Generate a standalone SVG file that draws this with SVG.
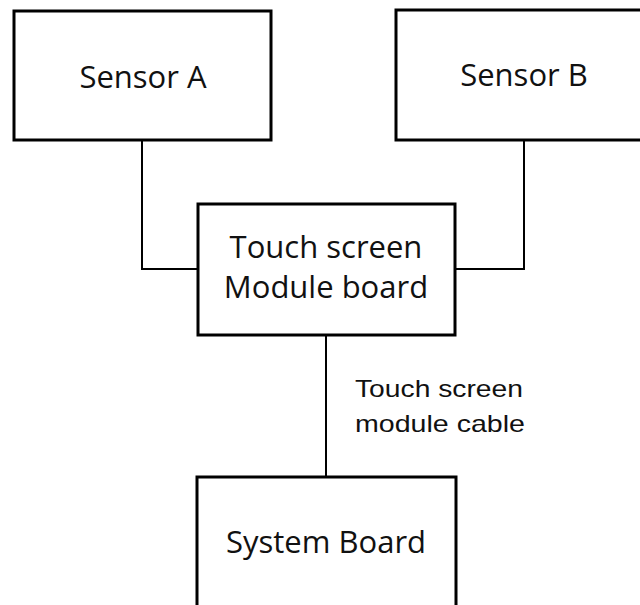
<svg xmlns="http://www.w3.org/2000/svg" width="640" height="605" viewBox="0 0 640 605">
<style>
.box{fill:#fff;stroke:#000;stroke-width:3}
.lbl{font-family:"Open Sans","Noto Sans",sans-serif;font-size:31px;fill:#111;text-anchor:middle}
.cab{font-family:"Liberation Sans",Arial,sans-serif;font-size:24px;fill:#111}
.wire{fill:none;stroke:#000;stroke-width:2}
</style>
<rect width="640" height="605" fill="#fff"/>
<g id="connectors">
<polyline class="wire" points="142,141 142,269 198,269"/>
<polyline class="wire" points="524,141 524,269 455,269"/>
<line class="wire" x1="326" y1="335" x2="326" y2="477"/>
</g>
<g id="sensorA">
<rect class="box" x="14" y="11" width="257" height="129"/>
<text class="lbl" x="143" y="88">Sensor A</text>
</g>
<g id="sensorB">
<rect class="box" x="396" y="10" width="246" height="130"/>
<text class="lbl" x="524" y="86">Sensor B</text>
</g>
<g id="module">
<rect class="box" x="198" y="204" width="257" height="131"/>
<text class="lbl" x="326" y="258">Touch screen</text>
<text class="lbl" x="326" y="298">Module board</text>
</g>
<g id="systemBoard">
<rect class="box" x="197" y="477" width="259" height="140"/>
<text class="lbl" x="326" y="553">System Board</text>
</g>
<g id="cableLabel">
<text class="cab" x="355" y="397" textLength="168" lengthAdjust="spacingAndGlyphs">Touch screen</text>
<text class="cab" x="355" y="432" textLength="170" lengthAdjust="spacingAndGlyphs">module cable</text>
</g>
</svg>
